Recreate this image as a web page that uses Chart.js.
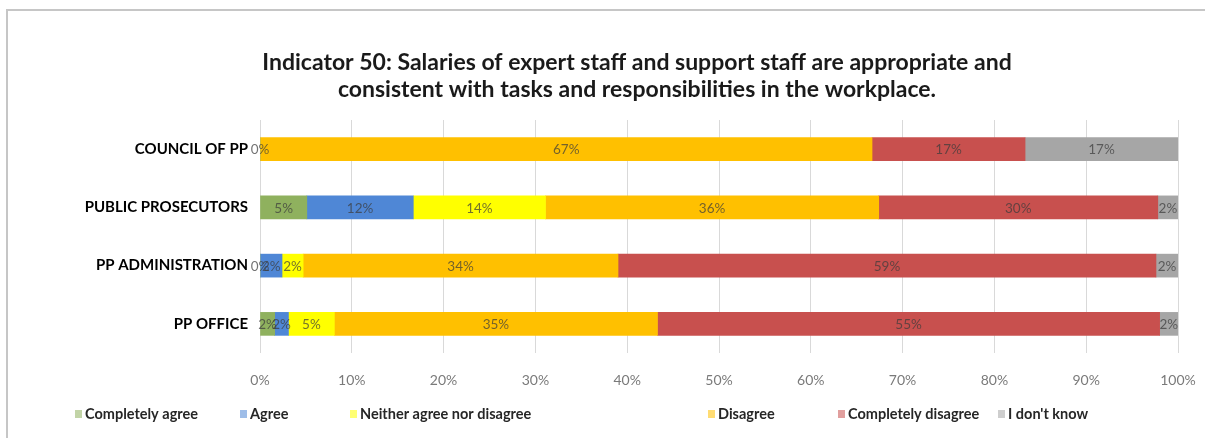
<!DOCTYPE html>
<html>
<head>
<meta charset="utf-8">
<script src="https://cdn.jsdelivr.net/npm/chart.js@4/dist/chart.umd.min.js"></script>
<style>
  html, body { margin: 0; padding: 0; background: #ffffff; }
  #wrap { width: 1205px; height: 438px; }
</style>
</head>
<body>
<div id="wrap"><canvas id="c" width="1205" height="438"></canvas></div>
<script>
// Survey groups (top to bottom)
const categories = ['COUNCIL OF PP', 'PUBLIC PROSECUTORS', 'PP ADMINISTRATION', 'PP OFFICE'];

// Answer shares in percent for each group (null = no answer shown)
const completelyAgree    = [0,     5.1,  0,    1.6];
const agree              = [null,  11.6, 2.4,  1.5];
const neither            = [null,  14.4, 2.3,  5.0];
const disagree           = [66.67, 36.3, 34.3, 35.2];
const completelyDisagree = [16.67, 30.4, 58.6, 54.7];
const dontKnow           = [16.66, 2.2,  2.4,  2.0];

const seriesNames = ['Completely agree', 'Agree', 'Neither agree nor disagree', 'Disagree', 'Completely disagree', "I don't know"];
const seriesColors = ['#8fb15e', '#4f87d6', '#ffff00', '#ffc000', '#c8504e', '#a6a6a6'];

const xTicks = [0, 10, 20, 30, 40, 50, 60, 70, 80, 90, 100];

const titleLines = [
  'Indicator 50: Salaries of expert staff and support staff are appropriate and',
  'consistent with tasks and responsibilities in the workplace.'
];

const FONT = 'Lato, "Liberation Sans", sans-serif';

// Frame lines and white background
const framePlugin = {
  id: 'frame',
  beforeDraw(chart) {
    const ctx = chart.ctx;
    ctx.save();
    ctx.fillStyle = '#ffffff';
    ctx.fillRect(0, 0, chart.width, chart.height);
    ctx.fillStyle = '#c6c6c6';
    ctx.fillRect(6, 9, chart.width - 6, 2);
    ctx.fillRect(6, 9, 2, chart.height - 9);
    ctx.restore();
  }
};

// Two-line centred heading
const headingPlugin = {
  id: 'heading',
  afterDraw(chart) {
    const ctx = chart.ctx;
    ctx.save();
    ctx.fillStyle = '#1a1a1a';
    ctx.font = 'bold 23px ' + FONT;
    ctx.textAlign = 'center';
    ctx.textBaseline = 'middle';
    titleLines.forEach((t, i) => ctx.fillText(t, 637, 63 + i * 27));
    ctx.restore();
  }
};

// Percentage labels centred on each segment
const valueLabelPlugin = {
  id: 'valueLabels',
  afterDatasetsDraw(chart) {
    const ctx = chart.ctx;
    ctx.save();
    ctx.font = '13.5px ' + FONT;
    ctx.textAlign = 'center';
    ctx.textBaseline = 'middle';
    ctx.fillStyle = 'rgba(60,60,60,0.72)';
    chart.data.datasets.forEach((ds, di) => {
      const meta = chart.getDatasetMeta(di);
      meta.data.forEach((el, i) => {
        const v = ds.data[i];
        if (v === null || v === undefined) return;
        const p = el.getCenterPoint();
        ctx.fillText(Math.round(v) + '%', p.x, p.y + 1);
      });
    });
    ctx.restore();
  }
};

// Legend row along the bottom
const legendSlots = [75, 240, 350, 708, 838, 998];
const legendRowPlugin = {
  id: 'legendRow',
  afterDraw(chart) {
    const ctx = chart.ctx;
    ctx.save();
    ctx.font = 'bold 14.5px ' + FONT;
    ctx.textAlign = 'left';
    ctx.textBaseline = 'middle';
    chart.data.datasets.forEach((ds, i) => {
      const x = legendSlots[i];
      const y = 414;
      ctx.globalAlpha = 0.55;
      ctx.fillStyle = ds.backgroundColor;
      ctx.fillRect(x, y - 4, 7, 8);
      ctx.globalAlpha = 1;
      ctx.fillStyle = '#262626';
      ctx.fillText(ds.label, x + 10, y);
    });
    ctx.restore();
  }
};

const seriesValues = [completelyAgree, agree, neither, disagree, completelyDisagree, dontKnow];

new Chart(document.getElementById('c'), {
  type: 'bar',
  data: {
    labels: categories,
    datasets: seriesValues.map((vals, i) => ({
      label: seriesNames[i],
      data: vals,
      backgroundColor: seriesColors[i],
      borderWidth: 0,
      barThickness: 23
    }))
  },
  options: {
    indexAxis: 'y',
    responsive: false,
    animation: false,
    layout: { padding: { top: 120, left: 0, right: 27, bottom: 45 } },
    plugins: {
      legend: { display: false },
      title: { display: false },
      tooltip: { enabled: false }
    },
    scales: {
      x: {
        stacked: true,
        min: 0,
        max: 100,
        afterBuildTicks(scale) { scale.ticks = xTicks.map(v => ({ value: v })); },
        afterFit(scale) {
          scale.height = 40;
          scale.paddingLeft = 0;
          scale.paddingRight = 0;
        },
        border: { display: false },
        grid: { color: '#d9d9d9', lineWidth: 1, drawTicks: false },
        ticks: {
          padding: 19,
          color: '#7a7a7a',
          font: { family: FONT, size: 14 },
          callback: v => v + '%'
        }
      },
      y: {
        stacked: true,
        afterFit(scale) { scale.width = 260; },
        border: { display: false },
        grid: { display: false, drawTicks: false },
        ticks: {
          padding: 12,
          color: '#000000',
          font: { family: FONT, size: 15, weight: 'bold' }
        }
      }
    }
  },
  plugins: [framePlugin, headingPlugin, valueLabelPlugin, legendRowPlugin]
});
</script>
</body>
</html>
